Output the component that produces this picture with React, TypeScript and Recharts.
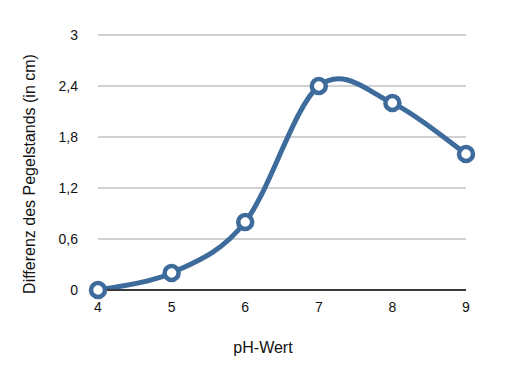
import { LineChart, Line, XAxis, YAxis, CartesianGrid, Label } from "recharts";

const phValues = [4, 5, 6, 7, 8, 9];
const pegelDiff = [0, 0.2, 0.8, 2.4, 2.2, 1.6];
const yTicks = [0, 0.6, 1.2, 1.8, 2.4, 3];

const data = phValues.map((ph, i) => ({ ph, diff: pegelDiff[i] }));

const LINE = "#3d6b9b";
const FONT = "'Liberation Sans', Arial, sans-serif";

// Catmull-Rom style smoothing like the spreadsheet app uses
function smoothCurve(context: any) {
  let pts: number[][] = [];
  return {
    areaStart() {},
    areaEnd() {},
    lineStart() {
      pts = [];
    },
    point(x: number, y: number) {
      pts.push([+x, +y]);
    },
    lineEnd() {
      if (!pts.length) return;
      context.moveTo(pts[0][0], pts[0][1]);
      for (let i = 0; i < pts.length - 1; i++) {
        const p0 = pts[i - 1] || pts[i];
        const p1 = pts[i];
        const p2 = pts[i + 1];
        const p3 = pts[i + 2] || p2;
        context.bezierCurveTo(
          p1[0] + (p2[0] - p0[0]) / 6,
          p1[1] + (p2[1] - p0[1]) / 6,
          p2[0] - (p3[0] - p1[0]) / 6,
          p2[1] - (p3[1] - p1[1]) / 6,
          p2[0],
          p2[1]
        );
      }
    },
  };
}

const fmt = (v: number) => String(v).replace(".", ",");

export default function App() {
  return (
    <div style={{ position: "absolute", left: 0, top: 0, background: "#fff" }}>
      <LineChart
        width={511}
        height={378}
        data={data}
        margin={{ top: 35, right: 45, bottom: 0, left: 0 }}
        style={{ fontFamily: FONT }}
      >
        <CartesianGrid vertical={false} stroke="#c2c2c2" strokeWidth={1.5} />
        <XAxis
          dataKey="ph"
          type="number"
          domain={[4, 9]}
          ticks={phValues}
          height={88}
          tickLine={false}
          tickSize={0}
          tickMargin={12}
          axisLine={{ stroke: "#3a3a3a", strokeWidth: 2 }}
          tick={{ fill: "#111", fontSize: 14 }}
        >
          <Label
            content={() => (
              <text x={263} y={353} textAnchor="middle" fontSize={16} fill="#111" fontFamily={FONT}>
                pH-Wert
              </text>
            )}
          />
        </XAxis>
        <YAxis
          domain={[0, 3]}
          ticks={yTicks}
          width={98}
          axisLine={false}
          tickLine={false}
          tickSize={0}
          tickMargin={20}
          tickFormatter={fmt}
          tick={{ fill: "#111", fontSize: 14 }}
        >
          <Label
            content={() => (
              <text
                x={35}
                y={174}
                textAnchor="middle"
                fontSize={16}
                fill="#111"
                fontFamily={FONT}
                transform="rotate(-90 35 174)"
              >
                Differenz des Pegelstands (in cm)
              </text>
            )}
          />
        </YAxis>
        <Line
          dataKey="diff"
          type={smoothCurve as any}
          stroke={LINE}
          strokeWidth={5}
          dot={{ r: 7, fill: "#fff", stroke: LINE, strokeWidth: 4.5 }}
          activeDot={false}
          isAnimationActive={false}
        />
      </LineChart>
    </div>
  );
}
